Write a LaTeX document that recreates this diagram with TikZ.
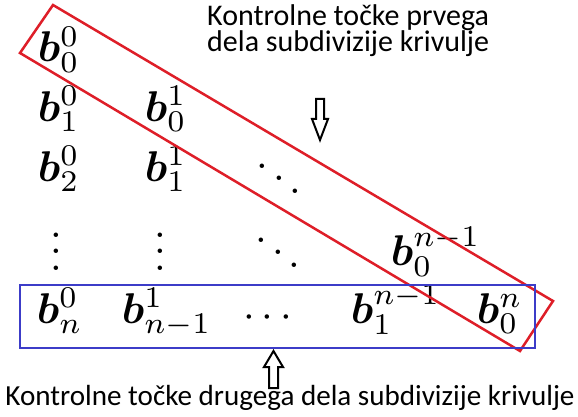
\documentclass[tikz,border=0pt]{standalone}
\usepackage{amsmath}
\usepackage{bm}
\usepackage{fontspec}
\newfontfamily\labelfont{Carlito}
\definecolor{boxred}{RGB}{222,30,40}
\definecolor{boxblue}{RGB}{60,60,200}
\tikzset{
  pt/.style={anchor=base west, inner sep=0pt, scale=4.3},
  dotsn/.style={inner sep=0pt, scale=4.2},
  lbl/.style={font=\labelfont\fontsize{30}{23.5}\selectfont, inner sep=0pt},
  hollow/.style={draw=black, line width=2pt, fill=white, line join=miter},
}
\begin{document}
\begin{tikzpicture}[x=1pt,y=-1pt]
\useasboundingbox (0,0) rectangle (578,417);
% entries
\node[pt] (b00) at (37,62) {$\bm{b}_0^0$};
\node[pt] (b10) at (37,121) {$\bm{b}_1^0$};
\node[pt] (b20) at (37,181) {$\bm{b}_2^0$};
\node[pt] (bn0) at (36,323) {$\bm{b}_n^0$};
\node[pt] (b01) at (144,121) {$\bm{b}_0^1$};
\node[pt] (b11) at (144,181) {$\bm{b}_1^1$};
\node[pt] (bn11) at (121,323) {$\bm{b}_{n-1}^1$};
\node[pt] (b0n1) at (390,265) {$\bm{b}_0^{n-1}$};
\node[pt] (b1n1) at (350,323) {$\bm{b}_1^{n-1}$};
\node[pt] (b0n) at (476,323) {$\bm{b}_0^n$};
\node[dotsn] (v1) at (56,239) {$\vdots$};
\node[dotsn] (v2) at (160,239) {$\vdots$};
\node[dotsn] (d1) at (279,166) {$\ddots$};
\node[dotsn] (d2) at (278,240) {$\ddots$};
\node[dotsn] (c1) at (271,318) {$\cdots$};
% red box
\coordinate (rt) at (53,5);
\coordinate (rl) at (20,53);
\coordinate (rb) at (520,351);
\coordinate (rr) at (553,301);
\draw[boxred, line width=2.5pt, line join=miter] (rt) -- (rr) -- (rb) -- (rl) -- cycle;
% blue box
\coordinate (bl) at (20,285);
\coordinate (br) at (535,348);
\draw[boxblue, line width=2.5pt] (bl) rectangle (br);
% labels
\node[lbl, anchor=base west, align=left] (top) at (207,52)
  {Kontrolne točke prvega\\dela subdivizije krivulje};
\node[lbl, anchor=base, font=\labelfont\fontsize{29.1}{30}\selectfont] (bot) at (290,405)
  {Kontrolne točke drugega dela subdivizije krivulje};
% hollow arrows
\draw[hollow] (316,99) -- (324,99) -- (324,119) -- (328,119) -- (320,140)
  -- (312,119) -- (316,119) -- cycle;
\draw[hollow] (269,388) -- (278,388) -- (278,367) -- (283,367) -- (273.5,351)
  -- (264,367) -- (269,367) -- cycle;
\end{tikzpicture}
\end{document}
